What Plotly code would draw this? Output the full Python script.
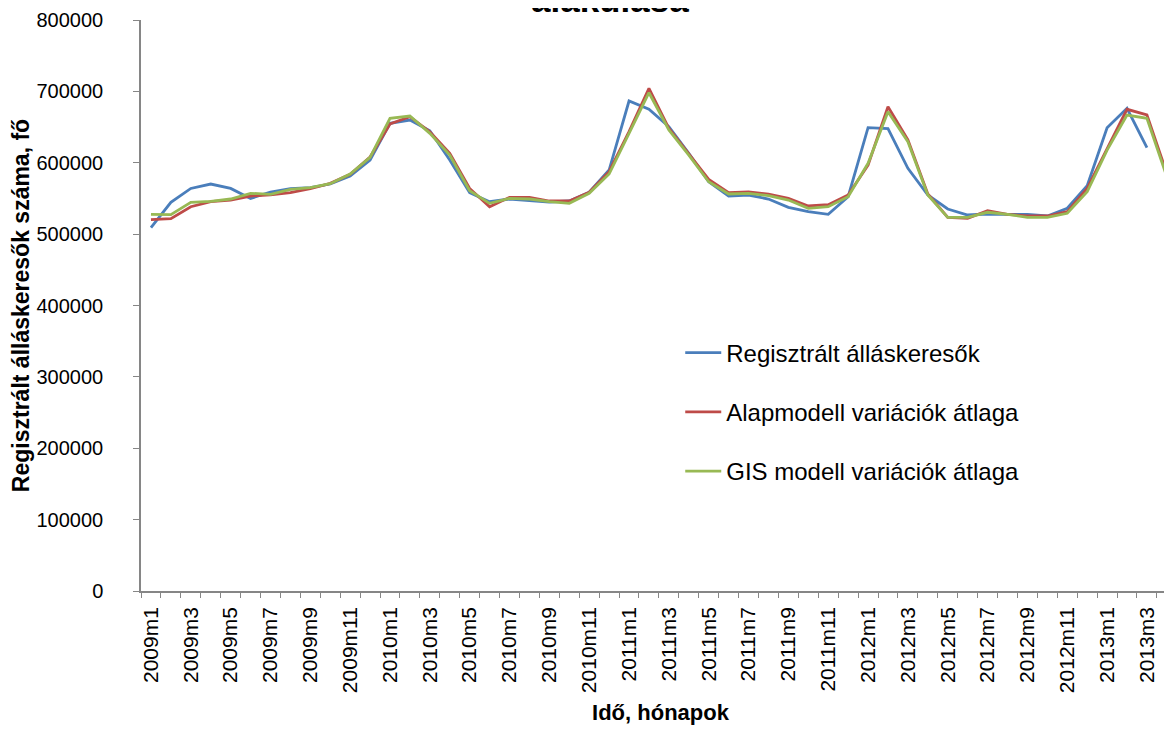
import plotly.graph_objects as go

categories = [
    "2009m1", "2009m2", "2009m3", "2009m4", "2009m5", "2009m6", "2009m7", "2009m8", "2009m9", "2009m10", "2009m11", "2009m12",
    "2010m1", "2010m2", "2010m3", "2010m4", "2010m5", "2010m6", "2010m7", "2010m8", "2010m9", "2010m10", "2010m11", "2010m12",
    "2011m1", "2011m2", "2011m3", "2011m4", "2011m5", "2011m6", "2011m7", "2011m8", "2011m9", "2011m10", "2011m11", "2011m12",
    "2012m1", "2012m2", "2012m3", "2012m4", "2012m5", "2012m6", "2012m7", "2012m8", "2012m9", "2012m10", "2012m11", "2012m12",
    "2013m1", "2013m2", "2013m3", "2013m4",
]

regisztralt = [
    509000, 544500, 564000, 570200, 564000, 550000, 559000, 563600, 565000, 570200, 581400, 603800,
    655200, 659900, 644900, 603800, 558000, 545400, 549200, 546800, 545000, 546400, 558600, 589800,
    686500, 674900, 650500, 613200, 573400, 553400, 554800, 549200, 537600, 531400, 527700, 552400,
    649100, 647700, 592200, 554800, 535200, 526800, 528200, 527700, 527700, 525400, 536200, 567800,
    649100, 676300, 621100, None,
]

alapmodell = [
    520200, 521600, 538400, 545400, 547800, 553400, 555200, 558000, 563600, 571200, 583700, 608000,
    654300, 664500, 643500, 613200, 564000, 538400, 551600, 551600, 546400, 546400, 558600, 587500,
    643500, 704200, 648200, 613200, 576700, 558000, 559000, 556200, 550100, 539400, 541200, 554800,
    596800, 678500, 631900, 556200, 523500, 522100, 532800, 527700, 525400, 525400, 531400, 564000,
    620200, 674900, 666900, 585200,
]

gis_modell = [
    527700, 527200, 544500, 546000, 549200, 557200, 555800, 562800, 565000, 570600, 584200, 607600,
    662200, 665500, 641200, 610800, 560800, 543100, 550100, 549200, 545400, 543100, 557200, 584200,
    641200, 698100, 645900, 610800, 573400, 556200, 557200, 553800, 547800, 536200, 538400, 552400,
    599200, 671500, 629500, 554800, 523500, 523500, 530600, 527700, 523500, 523500, 529200, 559400,
    617800, 666900, 662200, 580400,
]

series_names = [
    "Regisztrált álláskeresők",
    "Alapmodell variációk átlaga",
    "GIS modell variációk átlaga",
]
series_colors = ["#4A7EBB", "#BE4B48", "#98B954"]

tick_text = [c if i % 2 == 0 else "" for i, c in enumerate(categories)]

FONT = "Liberation Sans"

fig = go.Figure()
for i, (name, vals, col) in enumerate(zip(series_names, [regisztralt, alapmodell, gis_modell], series_colors)):
    fig.add_trace(go.Scatter(
        x=categories, y=vals, name=name, mode="lines",
        line=dict(color=col, width=2.8),
        legendgroup=f"g{i}",
    ))

fig.update_layout(
    width=1172, height=731,
    paper_bgcolor="white", plot_bgcolor="white",
    margin=dict(l=133, r=0, t=12, b=148),
    font=dict(family=FONT, size=19, color="black"),
    showlegend=True,
    legend=dict(
        x=0.519, y=0.456, xanchor="left", yanchor="top",
        bgcolor="rgba(0,0,0,0)", font=dict(size=24),
        traceorder="grouped", tracegroupgap=25,
        itemwidth=36,
    ),
    annotations=[dict(
        text="<b>alakulása</b>", xref="paper", yref="paper",
        x=0.4514, y=1.0, yshift=-1, xanchor="center", yanchor="bottom",
        showarrow=False, font=dict(size=35, family=FONT, color="black"),
    )],
)

fig.update_xaxes(
    type="category",
    range=[-0.5, 51.66],
    tickmode="array", tickvals=categories, ticktext=tick_text,
    tickson="boundaries", ticks="outside", ticklen=5, tickcolor="#868686",
    tickangle=-90, tickfont=dict(size=21),
    showline=True, linecolor="#868686", linewidth=1.5,
    showgrid=False, zeroline=False,
    ticklabelstandoff=6,
    title=dict(text="<b>Idő, hónapok</b>", font=dict(size=22), standoff=12),
)

fig.update_yaxes(
    range=[0, 800000], tickmode="linear", tick0=0, dtick=100000,
    ticks="outside", ticklen=6, tickcolor="#868686",
    tickformat="d", tickfont=dict(size=20),
    showline=True, linecolor="#868686", linewidth=1.5,
    showgrid=False, zeroline=False,
    ticklabelstandoff=26,
    title=dict(text="<b>Regisztrált álláskeresők száma, fő</b>", font=dict(size=23), standoff=6),
)

fig.write_html("out.html")
